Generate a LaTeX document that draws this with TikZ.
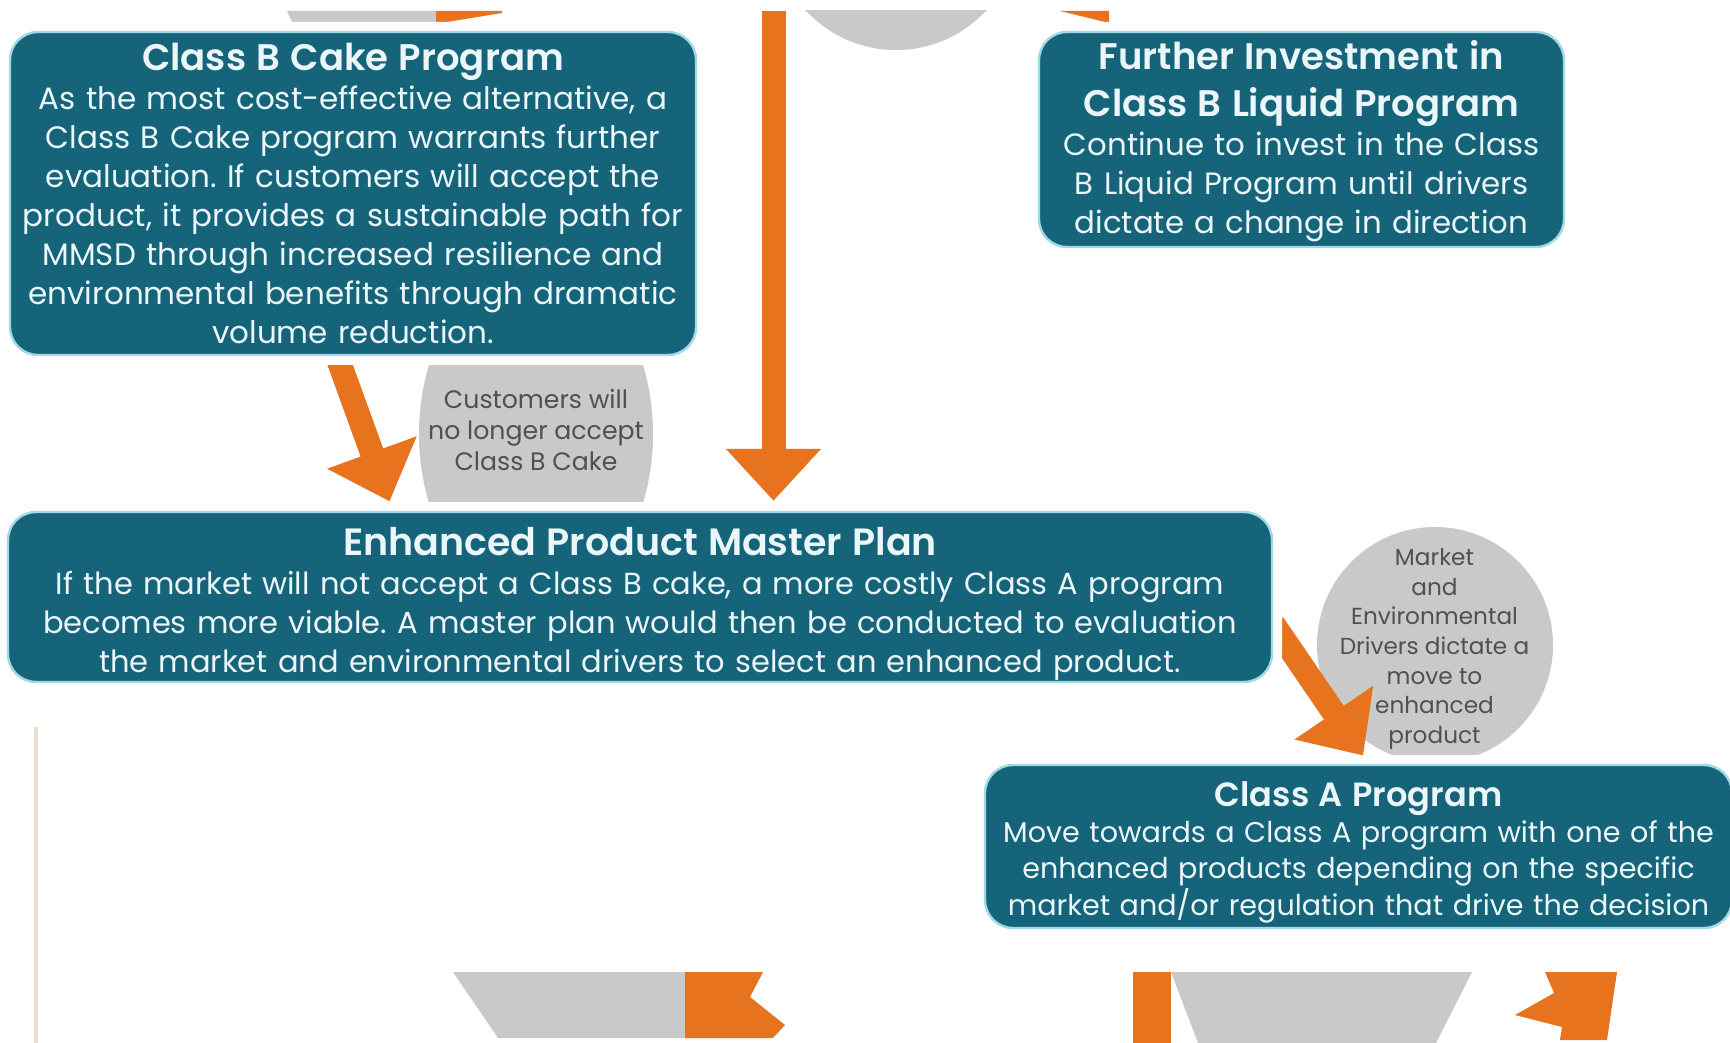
\documentclass[tikz,border=0pt]{standalone}
\usepackage{fontspec}
\setmainfont{Poppins}
\newfontfamily\headfont{Poppins}[UprightFont=* SemiBold]
\usetikzlibrary{arrows.meta,calc}
\pgfdeclarelayer{background}
\pgfsetlayers{background,main}
\frenchspacing

\definecolor{boxteal}{RGB}{22,100,121}
\definecolor{boxrim}{RGB}{160,218,230}
\definecolor{paletext}{RGB}{234,246,249}
\definecolor{arroworange}{RGB}{232,115,30}
\definecolor{bubblegrey}{RGB}{201,201,201}
\definecolor{bubbletext}{RGB}{80,80,80}
\definecolor{faintline}{RGB}{236,221,208}

\begin{document}
\begin{tikzpicture}[x=0.5pt, y=-0.5pt]
  \tikzstyle{box}=[rectangle, rounded corners=14pt, fill=boxteal, draw=boxrim, line width=1.2pt,
    preaction={draw=white, line width=10pt}, text=paletext, inner sep=0pt, align=center]
  \tikzstyle{bubble}=[fill=bubblegrey]
  \tikzstyle{note}=[text=bubbletext, align=center, inner sep=0pt]
  \tikzstyle{flow}=[draw=arroworange, line width=12pt, shorten >=5pt,
    -{Triangle[width=46pt, length=26pt]}]
  \tikzstyle{piece}=[fill=arroworange]

  \useasboundingbox (0,0) rectangle (1730,1043);

  \coordinate (topin) at (773.5,11);

  % program boxes
  \node[box, minimum width=343pt, minimum height=161.5pt, text width=343pt,
    font=\fontsize{15.5}{19.5}\selectfont] (cake) at (353,193.5)
    {{\headfont\fontsize{18.5}{23.5}\selectfont Class B Cake Program}\\
     As the most cost-effective alternative, a\\
     Class B Cake program warrants further\\
     evaluation. If customers will accept the\\
     product, it provides a sustainable path for\\
     MMSD through increased resilience and\\
     environmental benefits through dramatic\\
     volume reduction.};
  \node[box, minimum width=262.5pt, minimum height=107.5pt, text width=262.5pt,
    font=\fontsize{15.4}{19.5}\selectfont] (liquid) at (1301.5,139.5)
    {{\headfont\fontsize{18.5}{23.5}\selectfont\rule{0pt}{16.5pt}Further Investment in\\ Class B Liquid Program\par}
     Continue to invest in the Class\\
     B Liquid Program until drivers\\
     dictate a change in direction};
  \node[box, minimum width=632pt, minimum height=85pt, text width=632pt,
    font=\fontsize{15.25}{19.5}\selectfont] (master) at (640,597)
    {{\headfont\fontsize{19}{23.5}\selectfont\rule{0pt}{20.6pt}Enhanced Product Master Plan}\\
     If the market will not accept a Class B cake, a more costly Class A program\\
     becomes more viable. A master plan would then be conducted to evaluation\\
     the market and environmental drivers to select an enhanced product.};
  \node[box, minimum width=373.5pt, minimum height=81.5pt, text width=373.5pt,
    font=\fontsize{14.3}{18.2}\selectfont] (classa) at (1358.5,846.5)
    {{\headfont\fontsize{16.8}{21}\selectfont\rule{0pt}{18pt}Class A Program}\\
     Move towards a Class A program with one of the\\
     enhanced products depending on the specific\\
     market and/or regulation that drive the decision};

  \node[note, font=\fontsize{12.6}{15.5}\selectfont] (nolonger) at (536,430)
    {Customers will\\ no longer accept\\ Class B Cake};
  \node[note, font=\fontsize{11.6}{14.8}\selectfont] (drivers) at (1434.5,649)
    {Market\\ and\\ Environmental\\ Drivers dictate a\\ move to\\ enhanced\\ product};

  \begin{pgfonlayer}{background}
    \fill[white] (0,0) rectangle (1730,1043);
    % cut-off pieces at the top and bottom edge
    \begin{scope}
      \clip (0,11) rectangle (1730,1043);
      \fill[bubble] (896,-73) circle (123);
    \end{scope}
    \fill[bubble] (287,11) -- (436,11) -- (436,22) -- (292,22) -- cycle;
    \fill[piece] (436,11) -- (502,11) -- (502,13) -- (441,23) -- (436,23) -- cycle;
    \fill[piece] (1060,11) -- (1109,11) -- (1109,23) -- cycle;
    \fill[bubble] (453,972) -- (685,972) -- (685,1038) -- (498,1038) -- cycle;
    \fill[piece] (685,972) -- (763,972) -- (750,997) -- (785,1025) -- (773,1038) -- (685,1038) -- cycle;
    \fill[piece] (1133,972) rectangle (1171,1043);
    \fill[bubble] (1171,972) -- (1472,972) -- (1436,1043) -- (1198,1043) -- cycle;
    \fill[piece] (1545,972) -- (1617,972) -- (1607,1040) -- (1560,1040) -- (1562,1027)
      -- (1515,1015) -- (1554,993) -- cycle;
    \draw[faintline, line width=2pt] (36,727) -- (36,1043);

    % grey decision bubbles
    \fill[bubble] (536,434) ellipse [x radius=117, y radius=170];
    \fill[bubble] (1435,645) circle (118);

    % connectors
    \draw[flow] ([xshift=-8pt]cake.south) -- ([xshift=-123.5pt]master.north);
    \draw[flow] (topin) -- (topin |- master.north);
    \draw[flow] ([yshift=-13.5pt]master.east) -- ([xshift=192.5pt]classa.north west);
  \end{pgfonlayer}
\end{tikzpicture}
\end{document}
